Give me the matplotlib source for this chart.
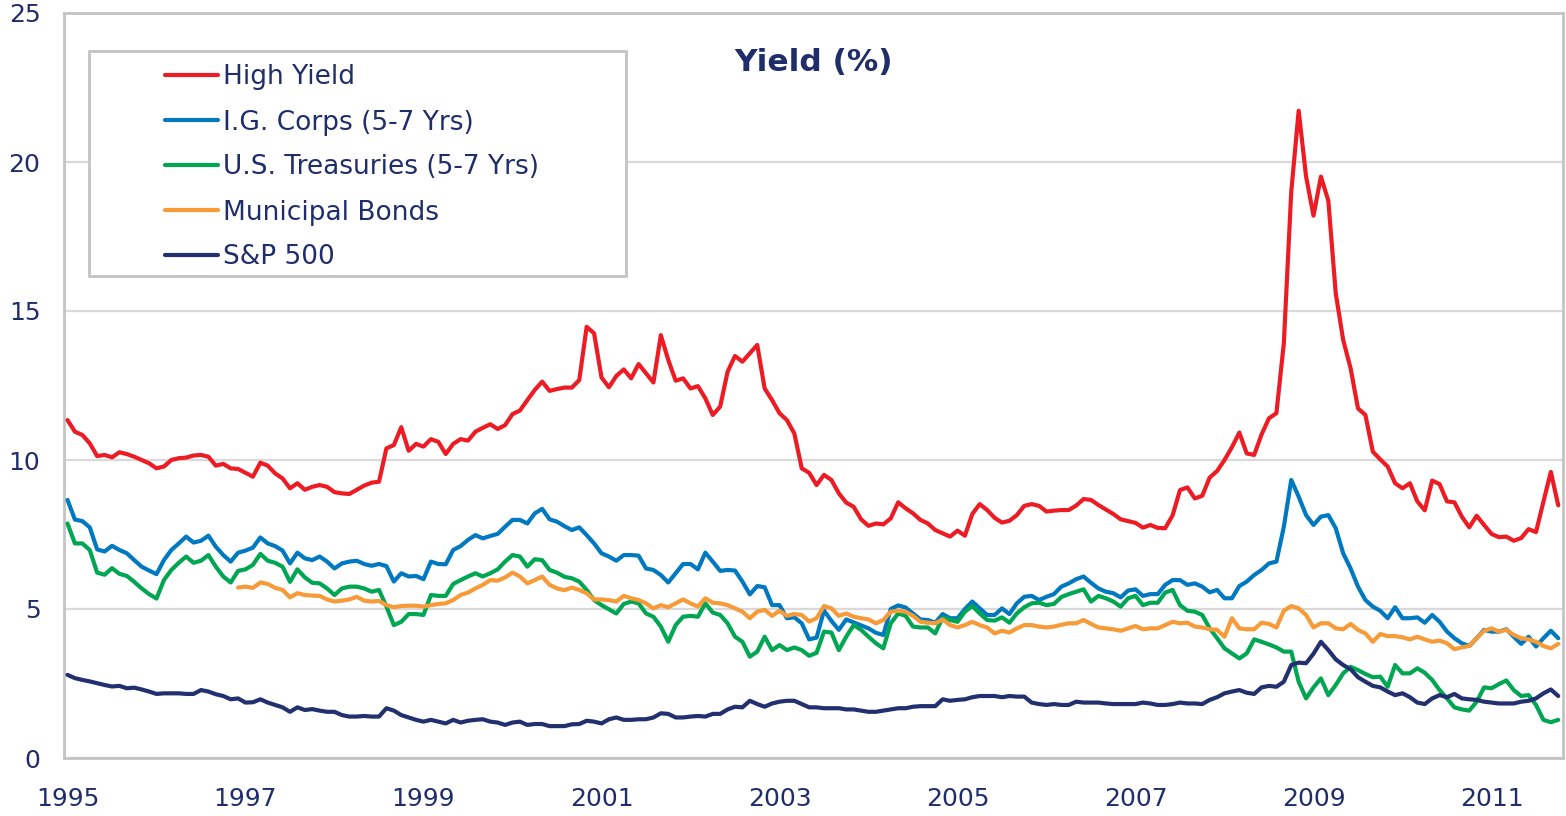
import numpy as np
import matplotlib
matplotlib.use("Agg")
import matplotlib.pyplot as plt
from matplotlib.patches import Rectangle

# ---------------- data (monthly, Jan 1995 - Oct 2011) ----------------
start_year = 1995
muni_start_index = 23  # Municipal Bonds series begins Dec 1996

high_yield = [
    11.34, 10.95, 10.84, 10.56, 10.13, 10.17, 10.09, 10.26, 10.2, 10.11,
    10.0, 9.89, 9.72, 9.78, 10.0, 10.06, 10.08, 10.15, 10.17, 10.11,
    9.81, 9.87, 9.72, 9.7, 9.57, 9.44, 9.91, 9.81, 9.55, 9.38,
    9.05, 9.22, 9.0, 9.1, 9.16, 9.1, 8.92, 8.88, 8.86, 9.0,
    9.14, 9.24, 9.27, 10.39, 10.5, 11.1, 10.31, 10.54, 10.45, 10.7,
    10.61, 10.2, 10.54, 10.7, 10.65, 10.95, 11.08, 11.2, 11.04, 11.17,
    11.54, 11.66, 12.01, 12.35, 12.63, 12.32, 12.38, 12.43, 12.43, 12.68,
    14.47, 14.25, 12.77, 12.44, 12.82, 13.04, 12.74, 13.22, 12.91, 12.6,
    14.19, 13.36, 12.66, 12.74, 12.4, 12.48, 12.07, 11.51, 11.79, 12.96,
    13.49, 13.3, 13.58, 13.86, 12.4, 12.01, 11.57, 11.34, 10.89, 9.72,
    9.57, 9.16, 9.5, 9.33, 8.88, 8.57, 8.43, 8.01, 7.79, 7.87,
    7.84, 8.04, 8.58, 8.38, 8.21, 7.99, 7.87, 7.65, 7.54, 7.43,
    7.63, 7.46, 8.19, 8.52, 8.32, 8.06, 7.9, 7.96, 8.15, 8.46,
    8.52, 8.46, 8.27, 8.3, 8.32, 8.32, 8.47, 8.69, 8.66, 8.49,
    8.34, 8.19, 8.01, 7.95, 7.89, 7.73, 7.82, 7.72, 7.71, 8.14,
    8.99, 9.08, 8.71, 8.8, 9.41, 9.63, 10.0, 10.43, 10.92, 10.22,
    10.17, 10.86, 11.4, 11.57, 13.92, 19.0, 21.72, 19.51, 18.2, 19.51,
    18.7, 15.59, 14.03, 13.08, 11.73, 11.51, 10.28, 10.02, 9.78, 9.22,
    9.05, 9.22, 8.61, 8.31, 9.31, 9.19, 8.61, 8.58, 8.1, 7.74,
    8.13, 7.82, 7.52, 7.41, 7.43, 7.29, 7.38, 7.68, 7.58, 8.6,
    9.6, 8.48,
]

ig_corps = [
    8.66, 8.0, 7.95, 7.74, 7.0, 6.93, 7.12, 6.98, 6.87, 6.64,
    6.42, 6.29, 6.17, 6.64, 6.98, 7.2, 7.43, 7.23, 7.29, 7.46,
    7.09, 6.81, 6.59, 6.89, 6.96, 7.06, 7.4, 7.2, 7.11, 6.96,
    6.53, 6.89, 6.7, 6.64, 6.76, 6.59, 6.36, 6.53, 6.59, 6.62,
    6.51, 6.45, 6.51, 6.44, 5.92, 6.2, 6.09, 6.11, 6.0, 6.59,
    6.51, 6.5, 6.98, 7.11, 7.32, 7.48, 7.37, 7.45, 7.52, 7.76,
    7.99, 7.99, 7.87, 8.21, 8.36, 8.01, 7.93, 7.78, 7.65, 7.74,
    7.48, 7.2, 6.87, 6.76, 6.62, 6.81, 6.81, 6.79, 6.36, 6.31,
    6.14, 5.89, 6.2, 6.51, 6.51, 6.33, 6.89, 6.59, 6.28, 6.31,
    6.29, 5.92, 5.49, 5.77, 5.73, 5.13, 5.13, 4.69, 4.72, 4.52,
    3.98, 4.04, 4.95, 4.6, 4.3, 4.65, 4.55, 4.45, 4.35, 4.2,
    4.13, 5.0, 5.12, 5.05, 4.85, 4.65, 4.63, 4.54, 4.83, 4.69,
    4.69, 5.0, 5.25, 5.02, 4.8, 4.8, 5.02, 4.83, 5.19, 5.41,
    5.44, 5.3, 5.41, 5.5, 5.75, 5.86, 6.0, 6.09, 5.88, 5.69,
    5.58, 5.53, 5.39, 5.62, 5.66, 5.44, 5.5, 5.5, 5.81, 5.97,
    5.97, 5.81, 5.86, 5.75, 5.56, 5.64, 5.36, 5.36, 5.77, 5.92,
    6.14, 6.31, 6.53, 6.59, 7.76, 9.33, 8.77, 8.15, 7.82, 8.1,
    8.15, 7.71, 6.87, 6.36, 5.75, 5.3, 5.08, 4.94, 4.69, 5.06,
    4.69, 4.69, 4.72, 4.54, 4.8, 4.57, 4.24, 4.02, 3.85, 3.76,
    4.02, 4.3, 4.24, 4.24, 4.32, 4.07, 3.83, 4.07, 3.74, 4.02,
    4.27, 4.02,
]

treasuries = [
    7.87, 7.2, 7.2, 6.98, 6.22, 6.15, 6.37, 6.18, 6.11, 5.91,
    5.69, 5.5, 5.35, 5.97, 6.31, 6.55, 6.76, 6.55, 6.62, 6.81,
    6.42, 6.09, 5.89, 6.28, 6.33, 6.48, 6.85, 6.62, 6.55, 6.42,
    5.91, 6.33, 6.06, 5.88, 5.86, 5.69, 5.47, 5.69, 5.75, 5.75,
    5.69, 5.58, 5.64, 5.08, 4.46, 4.57, 4.83, 4.83, 4.8, 5.47,
    5.44, 5.44, 5.84, 5.97, 6.09, 6.2, 6.09, 6.2, 6.33, 6.59,
    6.81, 6.76, 6.42, 6.67, 6.64, 6.31, 6.22, 6.08, 6.03, 5.92,
    5.64, 5.3, 5.13, 4.99, 4.85, 5.17, 5.25, 5.19, 4.85, 4.74,
    4.41, 3.9, 4.46, 4.74, 4.77, 4.74, 5.19, 4.88, 4.8, 4.52,
    4.07, 3.9, 3.4, 3.57, 4.07, 3.62, 3.79, 3.62, 3.71, 3.62,
    3.43, 3.53, 4.24, 4.21, 3.62, 4.07, 4.46, 4.3, 4.07, 3.85,
    3.68, 4.52, 4.85, 4.77, 4.41, 4.38, 4.38, 4.18, 4.72, 4.63,
    4.57, 4.91, 5.1, 4.85, 4.63, 4.61, 4.72, 4.54, 4.85, 5.06,
    5.19, 5.21, 5.13, 5.17, 5.4, 5.5, 5.58, 5.66, 5.25, 5.44,
    5.36, 5.25, 5.08, 5.36, 5.44, 5.13, 5.21, 5.21, 5.55, 5.64,
    5.13, 4.94, 4.91, 4.8, 4.35, 4.02, 3.68, 3.51, 3.34, 3.51,
    3.98, 3.9, 3.81, 3.71, 3.57, 3.57, 2.56, 2.0, 2.37, 2.67,
    2.11, 2.45, 2.84, 3.06, 2.95, 2.82, 2.71, 2.73, 2.39, 3.12,
    2.84, 2.84, 3.01, 2.86, 2.62, 2.28, 2.0, 1.7, 1.63, 1.59,
    1.89, 2.37, 2.34, 2.48, 2.6, 2.28, 2.08, 2.11, 1.78, 1.28,
    1.2, 1.28,
]

municipal = [
    5.72, 5.75, 5.71, 5.89, 5.84, 5.71, 5.64,
    5.39, 5.53, 5.47, 5.45, 5.44, 5.32, 5.25, 5.28, 5.32, 5.41,
    5.28, 5.25, 5.27, 5.13, 5.06, 5.1, 5.11, 5.11, 5.08, 5.13,
    5.17, 5.19, 5.3, 5.47, 5.55, 5.69, 5.81, 5.97, 5.95, 6.06,
    6.22, 6.09, 5.86, 5.97, 6.09, 5.81, 5.69, 5.63, 5.72, 5.64,
    5.53, 5.32, 5.32, 5.3, 5.25, 5.44, 5.36, 5.3, 5.19, 5.02,
    5.13, 5.06, 5.19, 5.32, 5.19, 5.08, 5.36, 5.21, 5.19, 5.13,
    5.02, 4.91, 4.69, 4.91, 4.97, 4.77, 4.94, 4.77, 4.83, 4.8,
    4.58, 4.69, 5.1, 5.02, 4.77, 4.85, 4.74, 4.69, 4.65, 4.52,
    4.63, 4.91, 4.94, 4.91, 4.77, 4.57, 4.54, 4.52, 4.65, 4.46,
    4.38, 4.46, 4.57, 4.46, 4.38, 4.18, 4.27, 4.21, 4.35, 4.46,
    4.46, 4.41, 4.38, 4.41, 4.47, 4.52, 4.52, 4.63, 4.5, 4.38,
    4.35, 4.32, 4.27, 4.35, 4.43, 4.32, 4.35, 4.35, 4.46, 4.57,
    4.52, 4.54, 4.41, 4.38, 4.32, 4.3, 4.07, 4.69, 4.35, 4.32,
    4.32, 4.54, 4.5, 4.38, 4.94, 5.1, 5.02, 4.8, 4.38, 4.52,
    4.52, 4.35, 4.32, 4.5, 4.3, 4.18, 3.9, 4.16, 4.09, 4.09,
    4.05, 3.98, 4.07, 3.98, 3.9, 3.94, 3.85, 3.65, 3.71, 3.76,
    4.02, 4.27, 4.35, 4.24, 4.3, 4.13, 4.02, 3.98, 3.9, 3.76,
    3.68, 3.83,
]

sp500 = [
    2.79, 2.68, 2.62, 2.57, 2.51, 2.45, 2.4, 2.42, 2.34, 2.36,
    2.3, 2.23, 2.15, 2.17, 2.17, 2.17, 2.15, 2.15, 2.28, 2.23,
    2.14, 2.08, 1.97, 2.0, 1.86, 1.87, 1.97, 1.86, 1.78, 1.7,
    1.55, 1.7, 1.61, 1.64, 1.59, 1.55, 1.55, 1.44, 1.39, 1.39,
    1.41, 1.39, 1.39, 1.67, 1.59, 1.44, 1.36, 1.28, 1.22, 1.28,
    1.22, 1.16, 1.28, 1.19, 1.25, 1.28, 1.3, 1.22, 1.19, 1.11,
    1.19, 1.22, 1.11, 1.14, 1.14, 1.07, 1.07, 1.07, 1.13, 1.14,
    1.25, 1.22, 1.16, 1.3, 1.36, 1.28, 1.28, 1.3, 1.3, 1.36,
    1.5, 1.48, 1.36, 1.36, 1.39, 1.41, 1.39, 1.48, 1.48, 1.63,
    1.72, 1.7, 1.92, 1.81, 1.72, 1.83, 1.89, 1.92, 1.92, 1.81,
    1.7, 1.7, 1.67, 1.67, 1.67, 1.63, 1.63, 1.59, 1.55, 1.55,
    1.59, 1.63, 1.67, 1.67, 1.72, 1.74, 1.74, 1.74, 1.97, 1.92,
    1.95, 1.97, 2.04, 2.08, 2.08, 2.08, 2.04, 2.08, 2.06, 2.06,
    1.86, 1.81, 1.78, 1.81, 1.78, 1.78, 1.89, 1.86, 1.86, 1.86,
    1.83, 1.81, 1.81, 1.81, 1.81, 1.86, 1.83, 1.78, 1.78, 1.81,
    1.86, 1.83, 1.83, 1.81, 1.95, 2.04, 2.17, 2.23, 2.28, 2.19,
    2.15, 2.37, 2.42, 2.39, 2.56, 3.12, 3.2, 3.18, 3.5, 3.9,
    3.62, 3.31, 3.12, 2.98, 2.71, 2.56, 2.42, 2.37, 2.23, 2.11,
    2.17, 2.04, 1.86, 1.81, 2.0, 2.11, 2.04, 2.15, 2.0, 1.97,
    1.95, 1.89, 1.86, 1.83, 1.83, 1.83, 1.89, 1.92, 2.0, 2.17,
    2.3, 2.08,
]

series_names = ["High Yield", "I.G. Corps (5-7 Yrs)", "U.S. Treasuries (5-7 Yrs)",
                "Municipal Bonds", "S&P 500"]
x_tick_labels = ["1995", "1997", "1999", "2001", "2003", "2005", "2007", "2009", "2011"]
y_ticks = [0, 5, 10, 15, 20, 25]
title = "Yield (%)"

# ---------------- plotting ----------------
TEXT = "#1F2D6B"
colors = ["#ED1C24", "#0079C1", "#00A651", "#F79A38", "#22306F"]

n = len(high_yield)
x_all = start_year + np.arange(n) / 12.0
x_muni = x_all[muni_start_index:muni_start_index + len(municipal)]

fig = plt.figure(figsize=(15.66, 8.16), dpi=100)
ax = fig.add_axes([64 / 1566, 1 - 758 / 816, (1563 - 64) / 1566, (758 - 13) / 816])

data = [(x_all, high_yield), (x_all, ig_corps), (x_all, treasuries),
        (x_muni, municipal), (x_all, sp500)]
handles = []
for (xx, yy), c, name in zip(data, colors, series_names):
    h, = ax.plot(xx, yy, color=c, lw=3.0, solid_joinstyle="round",
                 solid_capstyle="round", label=name, zorder=3)
    handles.append(h)

ax.set_xlim(1995 + (64 - 67.5) / 89.0, 1995 + (1563 - 67.5) / 89.0)
ax.set_ylim(0, 25)
ax.set_yticks(y_ticks)
ax.set_yticklabels([str(t) for t in y_ticks])
ax.set_xticks([int(s) for s in x_tick_labels])
ax.set_xticklabels(x_tick_labels)
ax.tick_params(axis="both", length=0, colors=TEXT, labelsize=18)
ax.tick_params(axis="y", pad=17)
ax.tick_params(axis="x", pad=21)

ax.yaxis.grid(True, color="#D9D9D9", lw=1.6)
ax.set_axisbelow(True)
for s in ax.spines.values():
    s.set_color("#C3C3C3")
    s.set_linewidth(2.0)

ax.text(0.5, 0.933, title, transform=ax.transAxes, ha="center", va="center",
        fontsize=22.5, fontweight="bold", color=TEXT)

# legend frame
frame = Rectangle((89 / 1566, 1 - 276 / 816), (626 - 89) / 1566, (276 - 51) / 816,
                  transform=fig.transFigure, facecolor="white", edgecolor="#C3C3C3",
                  lw=2.0, zorder=4)
fig.patches.append(frame)

leg = fig.legend(handles=handles, loc="center left",
                 bbox_to_anchor=(165 / 1566, 1 - 167.5 / 816),
                 frameon=False, fontsize=19, handlelength=2.0,
                 handletextpad=0.2, labelspacing=0.72, borderpad=0,
                 borderaxespad=0)
leg.set_zorder(5)
for t in leg.get_texts():
    t.set_color(TEXT)

fig.savefig("out.png", dpi=100)
